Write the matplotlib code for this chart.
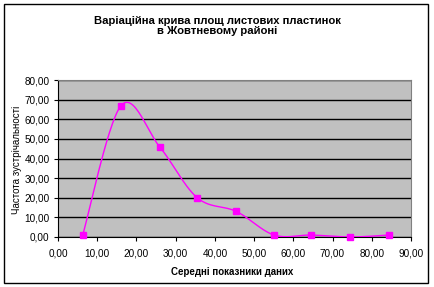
import numpy as np
import matplotlib
matplotlib.use("Agg")
import matplotlib.pyplot as plt
from matplotlib.ticker import FuncFormatter, MultipleLocator
from matplotlib.patches import Rectangle

title = "Варіаційна крива площ листових пластинок\nв Жовтневому районі"
x_label = "Середні показники даних"
y_label = "Частота зустрічальності"
x_vals = [6.3, 16.1, 25.9, 35.5, 45.5, 55.1, 64.6, 74.5, 84.3]
y_vals = [1, 67, 46, 20, 13, 1, 1, 0, 1]

plt.rcParams['font.family'] = ['Liberation Sans', 'DejaVu Sans']

def smooth(xs, ys, n=30):
    p = np.column_stack([xs, ys]).astype(float)
    out = []
    m = len(p)
    for i in range(m - 1):
        p0 = p[i - 1] if i > 0 else p[i]
        p1 = p[i]
        p2 = p[i + 1]
        p3 = p[i + 2] if i + 2 < m else p[i + 1]
        c1 = p1 + (p2 - p0) / 6
        c2 = p2 - (p3 - p1) / 6
        t = np.linspace(0, 1, n)[:, None]
        seg = ((1 - t) ** 3) * p1 + 3 * ((1 - t) ** 2) * t * c1 + 3 * (1 - t) * t ** 2 * c2 + t ** 3 * p2
        out.append(seg if i == 0 else seg[1:])
    s = np.vstack(out)
    return s[:, 0], s[:, 1]

fig = plt.figure(figsize=(4.34, 2.87), dpi=100)
ax = fig.add_axes([58/434, 1-237/287, (411-58)/434, (237-80)/287])
ax.set_facecolor('#C0C0C0')

sx, sy = smooth(x_vals, y_vals)
ax.plot(sx, sy, color='#FF00FF', lw=1.0, zorder=3)
ax.plot(x_vals, y_vals, ls='none', marker='s', ms=3.8, color='#FF00FF', zorder=4, clip_on=False)

ax.set_xlim(0, 90)
ax.set_ylim(0, 80)
ax.xaxis.set_major_locator(MultipleLocator(10))
ax.yaxis.set_major_locator(MultipleLocator(10))
fmt = FuncFormatter(lambda v, p: f"{v:.2f}".replace('.', ','))
ax.xaxis.set_major_formatter(fmt)
ax.yaxis.set_major_formatter(fmt)
ax.grid(axis='y', color='black', lw=1.0)
ax.set_axisbelow(True)
ax.tick_params(axis='both', labelsize=7.2, length=3, width=0.8, direction='out', pad=3)
ax.tick_params(axis='x', pad=5)
for s in ['left', 'bottom']:
    ax.spines[s].set_color('black')
    ax.spines[s].set_linewidth(0.8)
for s in ['top', 'right']:
    ax.spines[s].set_color('#808080')
    ax.spines[s].set_linewidth(0.8)

fig.text(217/434, 1-26/287, title, ha='center', va='center', fontsize=8.1, fontweight='bold', linespacing=1.1)
fig.text(232/434, 1-272/287, x_label, ha='center', va='center', fontsize=7, fontweight='bold')
fig.text(17/434, 1-160/287, y_label, ha='center', va='center', fontsize=7, rotation=90)

fig.patches.append(Rectangle((4/434, 1-283/287), (428-4)/434, (283-4)/287, transform=fig.transFigure,
                             fill=False, edgecolor='black', lw=1.0))

fig.savefig('out.png', dpi=100)
